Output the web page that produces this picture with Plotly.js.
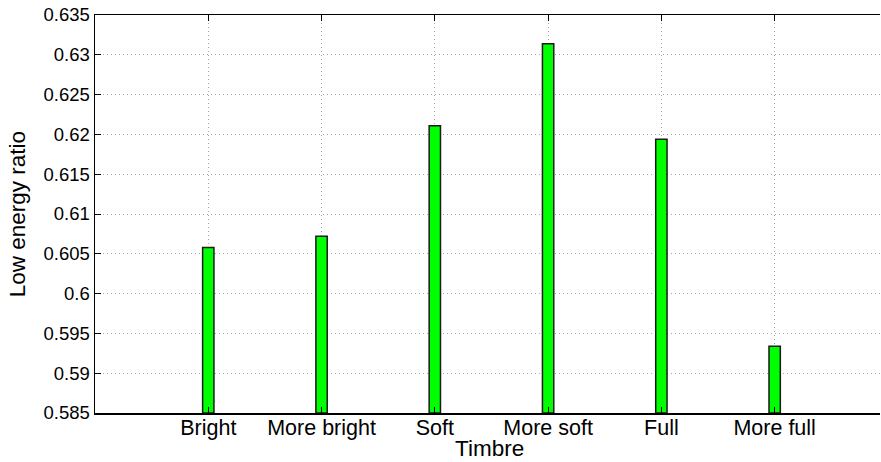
<!DOCTYPE html>
<html>
<head>
<meta charset="utf-8">
<script src="https://cdn.plot.ly/plotly-3.0.1.min.js"></script>
<style>html,body{margin:0;padding:0;background:#fff;}#chart{width:881px;height:462px;}</style>
</head>
<body>
<div id="chart"></div>
<script>
var categories = ["Bright", "More bright", "Soft", "More soft", "Full", "More full"];
var positions = [1, 2, 3, 4, 5, 6];
var values = [0.6058, 0.6072, 0.6211, 0.6314, 0.6194, 0.5934];
var baseline = 0.585;
var yTicks = [0.585, 0.59, 0.595, 0.6, 0.605, 0.61, 0.615, 0.62, 0.625, 0.63, 0.635];
var yTickText = ["0.585", "0.59", "0.595", "0.6", "0.605", "0.61", "0.615", "0.62", "0.625", "0.63", "0.635"];
var xTitle = "Timbre";
var yTitle = "Low energy ratio";

var fam = "Liberation Sans, Arial, Helvetica, sans-serif";
var yTickFont = {family: fam, size: 18.5, color: "#000"};
var xTickFont = {family: fam, size: 21.5, color: "#000"};
var titleFont = {family: fam, size: 22.5, color: "#000"};

var trace = {
  type: "bar",
  x: positions,
  y: values.map(function (v) { return v - baseline; }),
  base: baseline,
  width: 0.1,
  marker: {color: "#00ff00", line: {color: "#1a1a1a", width: 1.5}},
  hoverinfo: "skip"
};

var layout = {
  width: 881,
  height: 462,
  margin: {l: 95, r: 1, t: 15, b: 49},
  paper_bgcolor: "#fff",
  plot_bgcolor: "#fff",
  showlegend: false,
  xaxis: {
    range: [0, 6.93],
    tickvals: positions,
    ticktext: categories,
    ticks: "inside",
    ticklen: 6,
    tickcolor: "#000",
    ticklabelstandoff: -5,
    showgrid: true,
    gridcolor: "#a8a8a8",
    griddash: "1px,3px",
    gridwidth: 1,
    zeroline: false,
    showline: true,
    linecolor: "#000",
    linewidth: 1.5,
    mirror: "ticks",
    tickfont: xTickFont
  },
  yaxis: {
    range: [0.585, 0.635],
    tickvals: yTicks,
    ticktext: yTickText,
    ticks: "inside",
    ticklen: 6,
    tickcolor: "#000",
    showgrid: true,
    gridcolor: "#a8a8a8",
    griddash: "1px,3px",
    gridwidth: 1,
    zeroline: false,
    showline: true,
    linecolor: "#000",
    linewidth: 1.5,
    mirror: false,
    tickfont: yTickFont
  },
  annotations: [
    {text: xTitle, xref: "paper", yref: "paper", x: 0.503, y: -0.088,
     xanchor: "center", yanchor: "middle", showarrow: false, font: titleFont},
    {text: yTitle, xref: "paper", yref: "paper", x: -0.099, y: 0.5, textangle: -90,
     xanchor: "center", yanchor: "middle", showarrow: false, font: titleFont}
  ]
};

Plotly.newPlot("chart", [trace], layout, {displayModeBar: false, staticPlot: true});
</script>
</body>
</html>
